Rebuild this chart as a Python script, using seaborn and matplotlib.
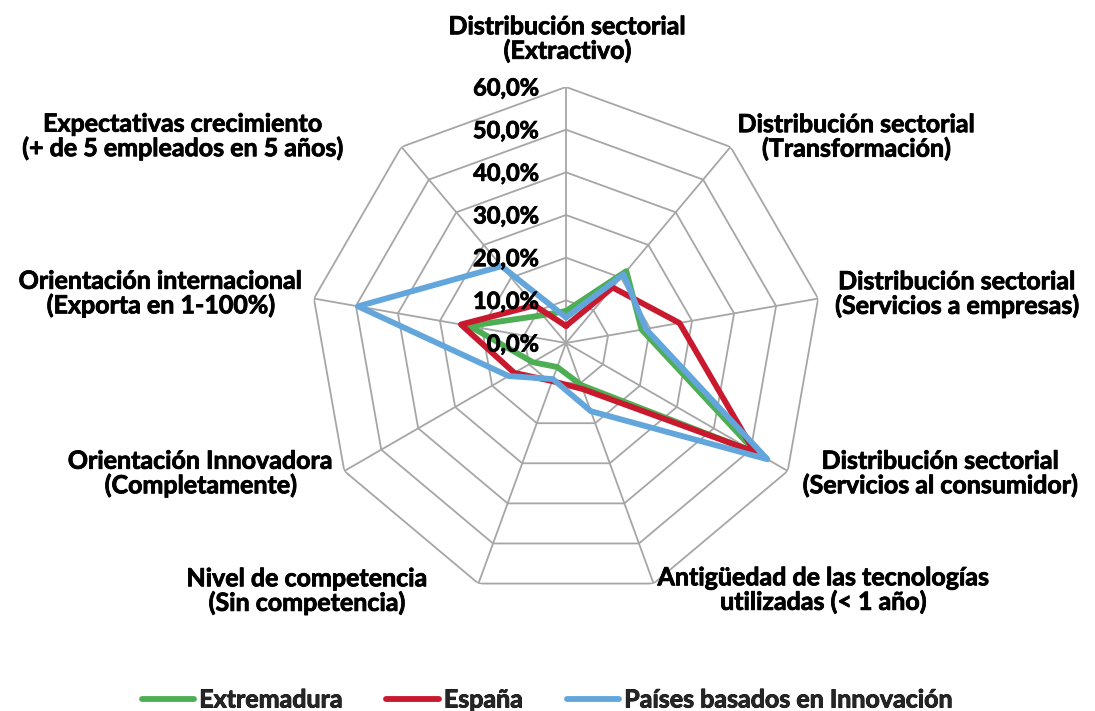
import numpy as np
import pandas as pd
import matplotlib
matplotlib.use("Agg")
import matplotlib.pyplot as plt
import matplotlib.patheffects as pe
import seaborn as sns

# ---- data -------------------------------------------------------------
categories = [
    "Distribución sectorial\n(Extractivo)",
    "Distribución sectorial\n(Transformación)",
    "Distribución sectorial\n(Servicios a empresas)",
    "Distribución sectorial\n(Servicios al consumidor)",
    "Antigüedad de las tecnologías\nutilizadas (< 1 año)",
    "Nivel de competencia\n(Sin competencia)",
    "Orientación Innovadora\n(Completamente)",
    "Orientación internacional\n(Exporta en 1-100%)",
    "Expectativas crecimiento\n(+ de 5 empleados en 5 años)",
]
series_names = ["Extremadura", "España", "Países basados en Innovación"]
extremadura = [7.5, 22.0, 18.0, 51.5, 10.5, 6.0, 9.0, 23.0, 8.5]
espana = [4.0, 17.0, 27.0, 51.0, 11.5, 9.5, 14.0, 25.0, 11.5]
innovacion = [6.0, 21.0, 19.0, 54.5, 17.0, 9.0, 15.5, 49.5, 23.5]
radial_ticks = [0, 10, 20, 30, 40, 50, 60]

colors = ["#4EAE53", "#C8192E", "#62A6DC"]

# ---- style ------------------------------------------------------------
sns.set_theme(style="white")
plt.rcParams["font.family"] = ["Lato", "DejaVu Sans"]

FS_TICK = 17
FS_LAB = 18
WEIGHT = "bold"
GRID = "#A6A6A6"
LW = 4.2
heavy = [pe.withStroke(linewidth=0.6, foreground="black")]

fig = plt.figure(figsize=(10.95, 7.11), dpi=100)
ax = fig.add_axes([0.28311, 0.15752, 0.46758, 0.72011], projection="polar")
ax.set_theta_zero_location("N")
ax.set_theta_direction(-1)
ax.set_ylim(0, radial_ticks[-1])
ax.grid(False)
ax.spines["polar"].set_visible(False)
ax.set_xticks([])
ax.set_yticks([])
ax.patch.set_alpha(0)

n = len(categories)
theta = np.linspace(0, 2 * np.pi, n, endpoint=False)
theta_closed = np.append(theta, 2 * np.pi)

# polygonal web
for r in radial_ticks[1:]:
    ax.plot(theta_closed, [r] * (n + 1), color=GRID, lw=1.3, zorder=1)
for t in theta:
    ax.plot([t, t], [0, radial_ticks[-1]], color=GRID, lw=1.3, zorder=1)

# series in long form, each ring closed back on its first point
rows = []
for name, vals in zip(series_names, [extremadura, espana, innovacion]):
    closed = list(vals) + [vals[0]]
    for t, v in zip(theta_closed, closed):
        rows.append({"theta": t, "valor": v, "serie": name})
df = pd.DataFrame(rows)

sns.lineplot(
    data=df, x="theta", y="valor", hue="serie", hue_order=series_names,
    palette=colors, sort=False, estimator=None, errorbar=None,
    linewidth=LW, ax=ax, zorder=3,
)
ax.set_xlabel("")
ax.set_ylabel("")
ax.set_ylim(0, radial_ticks[-1])

# radial value labels along the top spoke
for r in radial_ticks:
    ax.annotate(f"{r:.1f}%".replace(".", ","), xy=(0, r), xytext=(-27, -1),
                textcoords="offset pixels", ha="right", va="center",
                fontsize=FS_TICK, fontweight=WEIGHT, color="black", zorder=4,
                path_effects=heavy)

# category labels around the web
label_place = [
    ((1.5, 48), "center"),
    ((7, 10), "left"),
    ((17, 4.5), "left"),
    ((15, -2.5), "left"),
    ((4, -6.5), "left"),
    ((-51, -7.5), "right"),
    ((-11, -2.5), "right"),
    ((-11, 5), "right"),
    ((-58, 10.5), "right"),
]
for t, lab, (off, ha) in zip(theta, categories, label_place):
    ax.annotate(lab, xy=(t, radial_ticks[-1]), xytext=off,
                textcoords="offset pixels", ha=ha, va="center",
                multialignment="center", fontsize=FS_LAB, fontweight=WEIGHT,
                color="black", linespacing=1.05, annotation_clip=False,
                path_effects=heavy)

handles, labels = ax.get_legend_handles_labels()
if ax.get_legend() is not None:
    ax.get_legend().remove()
for h in handles:
    h.set_linewidth(LW)
    h.set_solid_capstyle("round")
leg = fig.legend(handles, labels, loc="center", bbox_to_anchor=(0.5, 0.0155),
                 ncol=3, frameon=False, prop={"size": FS_LAB, "weight": WEIGHT},
                 handlelength=2.1, handletextpad=0.2, columnspacing=1.75)
for txt in leg.get_texts():
    txt.set_path_effects(heavy)

fig.savefig("out.png", dpi=100)
